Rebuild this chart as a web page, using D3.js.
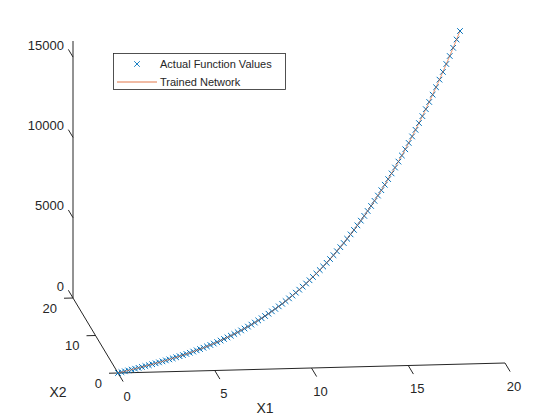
<!DOCTYPE html>
<html>
<head>
<meta charset="utf-8">
<script src="https://cdn.jsdelivr.net/npm/d3@7"></script>
<style>
  body { margin: 0; background: #fff; }
  text { font-family: "Liberation Sans", Arial, sans-serif; fill: #262626; }
</style>
</head>
<body>
<svg id="chart" width="560" height="420"></svg>
<script>
// sample points (X1 = X2 along the whole run)
var x1Vals = [0, 0.2, 0.4, 0.6, 0.8, 1, 1.2, 1.4, 1.6, 1.8, 2, 2.2, 2.4, 2.6, 2.8, 3, 3.2, 3.4, 3.6, 3.8,
  4, 4.2, 4.4, 4.6, 4.8, 5, 5.2, 5.4, 5.6, 5.8, 6, 6.2, 6.4, 6.6, 6.8, 7, 7.2, 7.4, 7.6, 7.8,
  8, 8.2, 8.4, 8.6, 8.8, 9, 9.2, 9.4, 9.6, 9.8, 10, 10.2, 10.4, 10.6, 10.8, 11, 11.2, 11.4, 11.6, 11.8,
  12, 12.2, 12.4, 12.6, 12.8, 13, 13.2, 13.4, 13.6, 13.8, 14, 14.2, 14.4, 14.6, 14.8, 15, 15.2, 15.4, 15.6, 15.8,
  16, 16.2, 16.4, 16.6, 16.8, 17, 17.2, 17.4, 17.6, 17.8, 18, 18.2, 18.4, 18.6, 18.8, 19, 19.2, 19.4, 19.6, 19.8, 20];
var x2Vals = [0, 0.2, 0.4, 0.6, 0.8, 1, 1.2, 1.4, 1.6, 1.8, 2, 2.2, 2.4, 2.6, 2.8, 3, 3.2, 3.4, 3.6, 3.8,
  4, 4.2, 4.4, 4.6, 4.8, 5, 5.2, 5.4, 5.6, 5.8, 6, 6.2, 6.4, 6.6, 6.8, 7, 7.2, 7.4, 7.6, 7.8,
  8, 8.2, 8.4, 8.6, 8.8, 9, 9.2, 9.4, 9.6, 9.8, 10, 10.2, 10.4, 10.6, 10.8, 11, 11.2, 11.4, 11.6, 11.8,
  12, 12.2, 12.4, 12.6, 12.8, 13, 13.2, 13.4, 13.6, 13.8, 14, 14.2, 14.4, 14.6, 14.8, 15, 15.2, 15.4, 15.6, 15.8,
  16, 16.2, 16.4, 16.6, 16.8, 17, 17.2, 17.4, 17.6, 17.8, 18, 18.2, 18.4, 18.6, 18.8, 19, 19.2, 19.4, 19.6, 19.8, 20];
var actualVals = [0, 0, 0.1, 0.4, 1, 2, 3.5, 5.5, 8.2, 11.7, 16, 21.3, 27.6, 35.2, 43.9, 54, 65.5, 78.6, 93.3, 110,
  128, 148, 170, 195, 221, 250, 281, 315, 351, 390, 432, 477, 524, 575, 629, 686, 746, 810, 878, 949,
  1024, 1103, 1185, 1272, 1363, 1458, 1557, 1661, 1769, 1882, 2000, 2122, 2250, 2382, 2519, 2662, 2810, 2963, 3122, 3286,
  3456, 3632, 3813, 4001, 4194, 4394, 4600, 4812, 5031, 5256, 5488, 5727, 5972, 6224, 6484, 6750, 7024, 7305, 7593, 7889,
  8192, 8503, 8822, 9149, 9483, 9826, 10177, 10536, 10904, 11280, 11664, 12057, 12459, 12870, 13289, 13718, 14156, 14603, 15059, 15525, 16000];
var networkVals = [0, 0, 0.1, 0.4, 1, 2, 3.5, 5.5, 8.2, 11.7, 16, 21.3, 27.6, 35.2, 43.9, 54, 65.5, 78.6, 93.3, 110,
  128, 148, 170, 195, 221, 250, 281, 315, 351, 390, 432, 477, 524, 575, 629, 686, 746, 810, 878, 949,
  1024, 1103, 1185, 1272, 1363, 1458, 1557, 1661, 1769, 1882, 2000, 2122, 2250, 2382, 2519, 2662, 2810, 2963, 3122, 3286,
  3456, 3632, 3813, 4001, 4194, 4394, 4600, 4812, 5031, 5256, 5488, 5727, 5972, 6224, 6484, 6750, 7024, 7305, 7593, 7889,
  8192, 8503, 8822, 9149, 9483, 9826, 10177, 10536, 10904, 11280, 11664, 12057, 12459, 12870, 13289, 13718, 14156, 14603, 15059, 15525, 16000];

var x1Ticks = [0, 5, 10, 15, 20];
var x2Ticks = [0, 10, 20];
var zTicks = [0, 5000, 10000, 15000];
var seriesNames = ["Actual Function Values", "Trained Network"];

var svg = d3.select("#chart");
var axisCol = "#262626";

// scales to 0..1, then a fixed oblique view (matlab default-ish camera)
var s1 = d3.scaleLinear().domain([0, 20]).range([0, 1]);
var s2 = d3.scaleLinear().domain([0, 20]).range([0, 1]);
var s3 = d3.scaleLinear().domain([0, 16000]).range([0, 1]);
var O = [118, 373],
  E1 = [387, -10],   // X1 direction
  E2 = [-45, -75],   // X2 direction
  E3 = [0, -257];    // Z direction

function proj(a, b, c) {
  var u = s1(a), v = s2(b), w = s3(c);
  return [O[0] + u * E1[0] + v * E2[0] + w * E3[0],
          O[1] + u * E1[1] + v * E2[1] + w * E3[1]];
}
function unit(v) { var l = Math.hypot(v[0], v[1]); return [v[0] / l, v[1] / l]; }

var axes = svg.append("g");
function seg(p, q) {
  axes.append("line")
    .attr("x1", p[0]).attr("y1", p[1]).attr("x2", q[0]).attr("y2", q[1])
    .attr("stroke", axisCol).attr("stroke-width", 1);
}
seg(proj(0, 0, 0), proj(20, 0, 0));
seg(proj(0, 0, 0), proj(0, 20, 0));
seg(proj(0, 20, 0), proj(0, 20, 16000));

// X1 ticks point along -X2
var d1 = unit(E2);
x1Ticks.forEach(function (t) {
  var p = proj(t, 0, 0);
  seg(p, [p[0] - d1[0] * 10, p[1] - d1[1] * 10]);
  axes.append("text").attr("x", p[0] + 9).attr("y", p[1] + 23)
    .attr("text-anchor", "middle").attr("dominant-baseline", "central")
    .style("font-size", "13px").text(t);
});
// X2 ticks point along -X1
var d2 = unit(E1);
x2Ticks.forEach(function (t) {
  var p = proj(0, t, 0);
  seg(p, [p[0] - d2[0] * 9, p[1] - d2[1] * 9]);
  axes.append("text").attr("x", p[0] - 16).attr("y", p[1] + 10)
    .attr("text-anchor", "end").attr("dominant-baseline", "central")
    .style("font-size", "13px").text(t);
});
// Z ticks point along +X2
zTicks.forEach(function (t) {
  var p = proj(0, 20, t);
  seg(p, [p[0] + d1[0] * 9, p[1] + d1[1] * 9]);
  axes.append("text").attr("x", p[0] - 9).attr("y", p[1] - 12)
    .attr("text-anchor", "end").attr("dominant-baseline", "central")
    .style("font-size", "13px").text(t);
});

axes.append("text").attr("x", 265).attr("y", 408).attr("text-anchor", "middle")
  .attr("dominant-baseline", "central").style("font-size", "14px").text("X1");
axes.append("text").attr("x", 58).attr("y", 392).attr("text-anchor", "middle")
  .attr("dominant-baseline", "central").style("font-size", "14px").text("X2");

// data
var pts = x1Vals.map(function (d, i) { return proj(d, x2Vals[i], actualVals[i]); });
var netPts = x1Vals.map(function (d, i) { return proj(d, x2Vals[i], networkVals[i]); });

var m = 2.8;
svg.append("g").selectAll("path")
  .data(pts)
  .enter()
  .append("path")
  .attr("d", function (p) {
    return "M" + (p[0] - m) + "," + (p[1] - m) + "L" + (p[0] + m) + "," + (p[1] + m) +
      "M" + (p[0] - m) + "," + (p[1] + m) + "L" + (p[0] + m) + "," + (p[1] - m);
  })
  .attr("stroke", "#0072BD").attr("stroke-width", 1).attr("fill", "none");

svg.append("path")
  .datum(netPts)
  .attr("d", d3.line())
  .attr("fill", "none").attr("stroke", "#D95319").attr("stroke-width", 0.6);

// legend
var leg = svg.append("g");
leg.append("rect").attr("x", 113.5).attr("y", 53.5).attr("width", 172).attr("height", 36)
  .attr("fill", "#fff").attr("stroke", axisCol).attr("stroke-width", 0.8);
leg.append("path")
  .attr("d", "M" + (137 - m) + "," + (64 - m) + "L" + (137 + m) + "," + (64 + m) +
    "M" + (137 - m) + "," + (64 + m) + "L" + (137 + m) + "," + (64 - m))
  .attr("stroke", "#0072BD").attr("stroke-width", 0.9);
leg.append("line").attr("x1", 117).attr("x2", 157).attr("y1", 82).attr("y2", 82)
  .attr("stroke", "#D95319").attr("stroke-width", 0.8);
leg.selectAll("text.lab")
  .data(seriesNames)
  .enter()
  .append("text")
  .attr("class", "lab")
  .attr("x", 160)
  .attr("y", function (d, i) { return 64 + i * 18; })
  .attr("dominant-baseline", "central")
  .style("font-size", "11px")
  .text(function (d) { return d; });
</script>
</body>
</html>
